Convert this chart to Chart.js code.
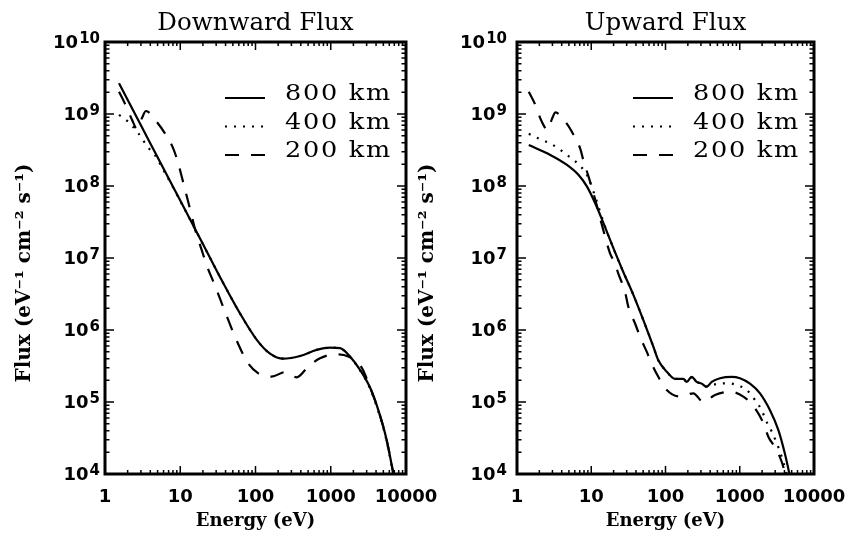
<!DOCTYPE html>
<html><head><meta charset="utf-8">
<script src="https://cdn.jsdelivr.net/npm/chart.js@4"></script>
<style>
html,body{margin:0;padding:0;background:#fff;}
#wrap{position:relative;width:849px;height:543px;overflow:hidden;background:#fff;}
canvas{position:absolute;top:0;}
#cL{left:0;}
#cR{left:400px;}
</style></head><body>
<div id="wrap"><canvas id="cL" width="470" height="543"></canvas><canvas id="cR" width="449" height="543"></canvas></div>
<script>
// ---- tick labels / categories ----
const xTickValues = [1, 10, 100, 1000, 10000];
const xTickLabels = ['1', '10', '100', '1000', '10000'];
const yTickExponents = [4, 5, 6, 7, 8, 9, 10];
const seriesLabels = ['800 km', '400 km', '200 km'];
const panelTitles = ['Downward Flux', 'Upward Flux'];

// ---- Downward flux ----
const downE800 = [1.535, 3, 5, 10, 20, 35.6, 62.2, 104, 156, 234, 390, 650, 977, 1330, 1800, 2450, 3320, 4290, 5520, 6640, 7200];
const downF800 = [2.67e9, 7.0e8, 2.5e8, 6.3e7, 1.57e7, 4.9e6, 1.7e6, 7.3e5, 4.7e5, 4.0e5, 4.35e5, 5.3e5, 5.7e5, 5.6e5, 4.3e5, 2.8e5, 1.6e5, 7.7e4, 3.0e4, 1.14e4, 7e3];

const downE400 = [1.535, 2.04, 2.7, 3.77, 4.6, 6, 8, 10, 20, 35.6, 62.2, 104, 156, 234, 390, 650, 977, 1330, 1800, 2450, 3320, 4290, 5520, 6640, 7200];
const downF400 = [9.7e8, 7.8e8, 5.6e8, 3.4e8, 2.7e8, 1.65e8, 9.6e7, 6.2e7, 1.56e7, 4.9e6, 1.7e6, 7.3e5, 4.7e5, 4.0e5, 4.35e5, 5.3e5, 5.7e5, 5.55e5, 4.25e5, 2.75e5, 1.55e5, 7.4e4, 2.9e4, 1.1e4, 7e3];

const downE200 = [1.535, 1.88, 2.3, 2.66, 3.1, 3.5, 4.86, 6.46, 8.08, 9.23, 10.6, 13.1, 16.3, 19.3, 22.4, 29, 40.4, 57.7, 80.4, 109, 164, 247, 352, 503, 719, 1140, 1710, 2580, 3320, 4290, 5520, 6640, 7200];
const downF200 = [2.04e9, 1.33e9, 8.2e8, 6.2e8, 8.8e8, 1.1e9, 7.8e8, 5.1e8, 3.3e8, 2.2e8, 1.28e8, 5.4e7, 2.2e7, 1.29e7, 8.0e6, 4.1e6, 1.67e6, 6.7e5, 3.4e5, 2.5e5, 2.25e5, 2.6e5, 2.2e5, 3.1e5, 4.05e5, 4.6e5, 4.3e5, 3.0e5, 1.6e5, 7.7e4, 3.0e4, 1.14e4, 7e3];

// ---- Upward flux ----
const upE800 = [1.44, 2.81, 4.71, 6.76, 8.77, 11.3, 14.7, 19.8, 27, 36.8, 50.2, 68.5, 80, 104, 134, 174, 193, 225, 263, 307, 359, 419, 542, 778, 1007, 1374, 1874, 2555, 3305, 4065, 4650, 5000];
const upF800 = [3.7e8, 2.7e8, 1.96e8, 1.42e8, 9.8e7, 5.75e7, 3.0e7, 1.38e7, 6.4e6, 3.1e6, 1.38e6, 5.9e5, 3.8e5, 2.64e5, 2.1e5, 2.1e5, 1.9e5, 2.24e5, 1.9e5, 1.8e5, 1.63e5, 1.9e5, 2.14e5, 2.24e5, 2.14e5, 1.8e5, 1.32e5, 7.7e4, 4.1e4, 1.9e4, 1.02e4, 7e3];

const upE400 = [1.44, 2.06, 2.81, 3.64, 4.71, 6.1, 7.9, 9.2, 11.3, 14.7, 19.8, 27, 36.8, 50.2, 68.5, 80, 104, 134, 174, 193, 225, 263, 307, 359, 398, 542, 702, 910, 1240, 1600, 1970, 2300, 2690, 3140, 3670, 4200, 4500];
const upF400 = [5.3e8, 4.45e8, 3.9e8, 3.3e8, 2.7e8, 2.2e8, 1.67e8, 1.28e8, 7.1e7, 3.1e7, 1.38e7, 6.4e6, 3.1e6, 1.38e6, 5.9e5, 3.8e5, 2.64e5, 2.1e5, 2.1e5, 1.9e5, 2.2e5, 1.9e5, 1.8e5, 1.63e5, 1.7e5, 1.8e5, 1.82e5, 1.72e5, 1.47e5, 1.07e5, 7.7e4, 5.3e4, 3.9e4, 2.7e4, 1.74e4, 1.07e4, 8e3];

const upE200 = [1.44, 1.77, 2.1, 2.59, 2.95, 3.3, 4.48, 5.8, 7.1, 7.9, 9.2, 11.35, 14.3, 17.9, 20.9, 23.1, 28.5, 31.6, 38.8, 45.4, 55.8, 65.2, 80, 104, 157, 237, 323, 464, 739, 1117, 1604, 2077, 2425, 3140, 3860, 4200];
const upF200 = [2.04e9, 1.33e9, 8.3e8, 6.0e8, 8.5e8, 1.05e9, 7.8e8, 5.1e8, 3.3e8, 2.2e8, 1.35e8, 6.4e7, 2.6e7, 1.16e7, 8.4e6, 6.1e6, 3.4e6, 2.1e6, 1.24e6, 8.1e5, 5.0e5, 3.4e5, 2.24e5, 1.47e5, 1.19e5, 1.32e5, 1.0e5, 1.25e5, 1.39e5, 1.19e5, 8.2e4, 5.1e4, 3.3e4, 2.15e4, 1.26e4, 8.5e3];

const yTitle = 'Flux (eV\u207B\u00B9 cm\u207B\u00B2 s\u207B\u00B9)\u2003\u2002';
const xTitle = 'Energy (eV)';

function pts(E, F) { return E.map((e, i) => ({ x: e, y: F[i] })); }
const dashStyles = [[], [2, 7], [14, 12]];

function makeDatasets(sets) {
  return sets.map((s, i) => ({
    label: seriesLabels[i],
    data: pts(s[0], s[1]),
    borderColor: '#000',
    borderWidth: 2.2,
    borderDash: dashStyles[i],
    pointRadius: 0,
    fill: false,
    cubicInterpolationMode: 'monotone'
  }));
}

const framePlugin = {
  id: 'frame',
  afterDraw(chart, args, opts) {
    const { ctx, chartArea: a, scales: { x, y } } = chart;
    ctx.save();
    ctx.strokeStyle = '#000';
    ctx.fillStyle = '#000';
    // inward ticks on all four sides
    ctx.lineWidth = 1.5;
    ctx.beginPath();
    for (let d = 0; d < 4; d++) {
      for (let m = 1; m <= 9; m++) {
        const v = m * Math.pow(10, d);
        const px = x.getPixelForValue(v);
        const len = m === 1 ? 8 : 4;
        ctx.moveTo(px, a.bottom); ctx.lineTo(px, a.bottom - len);
        ctx.moveTo(px, a.top); ctx.lineTo(px, a.top + len);
      }
    }
    for (let d = 4; d < 10; d++) {
      for (let m = 1; m <= 9; m++) {
        const v = m * Math.pow(10, d);
        const py = y.getPixelForValue(v);
        const len = m === 1 ? 9 : 4.5;
        ctx.moveTo(a.left, py); ctx.lineTo(a.left + len, py);
        ctx.moveTo(a.right, py); ctx.lineTo(a.right - len, py);
      }
    }
    ctx.stroke();
    ctx.lineWidth = 3;
    ctx.strokeRect(a.left, a.top, a.right - a.left, a.bottom - a.top);

    // y tick labels 10^n
    const xr = a.left - opts.labelGap;
    yTickExponents.forEach(e => {
      const py = y.getPixelForValue(Math.pow(10, e));
      ctx.font = 'bold 15px "DejaVu Sans"';
      ctx.textAlign = 'right';
      ctx.textBaseline = 'alphabetic';
      const es = String(e);
      const w = ctx.measureText(es).width;
      ctx.fillText(es, xr, py + 1);
      ctx.font = 'bold 18px "DejaVu Sans"';
      ctx.textBaseline = 'middle';
      ctx.fillText('10', xr - w - 1, py + 1);
    });

    // legend
    chart.data.datasets.forEach((ds, i) => {
      const ly = a.top + 56 + i * 28.5;
      ctx.lineWidth = 2.2;
      ctx.setLineDash(ds.borderDash);
      ctx.beginPath();
      ctx.moveTo(a.right - 181, ly);
      ctx.lineTo(a.right - 141, ly);
      ctx.stroke();
      ctx.setLineDash([]);
      ctx.save();
      ctx.translate(a.right - 121, ly + 2);
      ctx.scale(1.16, 1);
      ctx.font = '22px "DejaVu Serif"';
      ctx.letterSpacing = '1.5px';
      ctx.textAlign = 'left';
      ctx.textBaseline = 'alphabetic';
      ctx.fillText(ds.label, 0, 0);
      ctx.restore();
    });
    ctx.restore();
  }
};

function makeChart(id, title, sets, yWidth, padRight, yTitlePad, labelGap) {
  return new Chart(document.getElementById(id), {
    type: 'line',
    data: { datasets: makeDatasets(sets) },
    plugins: [framePlugin],
    options: {
      responsive: false,
      animation: false,
      devicePixelRatio: 1,
      layout: { padding: { left: 0, right: padRight, top: 8.5, bottom: 0 } },
      plugins: {
        legend: { display: false },
        tooltip: { enabled: false },
        title: {
          display: true, text: title, fullSize: false, color: '#000',
          font: { family: 'DejaVu Serif', size: 24.5, weight: 'normal' },
          padding: { top: 0, bottom: 4.1 }
        },
        frame: { labelGap: labelGap }
      },
      scales: {
        x: {
          type: 'logarithmic', position: 'bottom', min: 1, max: 10000,
          afterBuildTicks: s => { s.ticks = xTickValues.map(v => ({ value: v })); },
          afterFit: s => { s.height = 69; s.paddingLeft = 0; s.paddingRight = 0; },
          ticks: {
            callback: v => xTickLabels[xTickValues.indexOf(v)],
            autoSkip: false, maxRotation: 0, minRotation: 0, padding: 13, color: '#000',
            font: { family: 'DejaVu Sans', weight: 'bold', size: 18 }
          },
          grid: { display: false, drawTicks: false },
          border: { display: false },
          title: {
            display: true, text: xTitle, color: '#000',
            font: { family: 'DejaVu Serif', weight: 'bold', size: 18 },
            padding: { top: 0, bottom: 11 }
          }
        },
        y: {
          type: 'logarithmic', position: 'left', min: 1e4, max: 1e10,
          afterBuildTicks: s => { s.ticks = yTickExponents.map(e => ({ value: Math.pow(10, e) })); },
          afterFit: s => { s.width = yWidth; s.paddingTop = 0; s.paddingBottom = 0; },
          ticks: { display: false },
          grid: { display: false, drawTicks: false },
          border: { display: false },
          title: {
            display: true, text: yTitle, color: '#000',
            font: { family: 'DejaVu Serif', weight: 'bold', size: 20 },
            padding: { top: yTitlePad, bottom: 0 }
          }
        }
      }
    }
  });
}

makeChart('cL', panelTitles[0], [[downE800, downF800], [downE400, downF400], [downE200, downF200]], 105, 64, 13, 5);
makeChart('cR', panelTitles[1], [[upE800, upF800], [upE400, upF400], [upE200, upF200]], 117, 35, 16, 10);
</script>
</body></html>
